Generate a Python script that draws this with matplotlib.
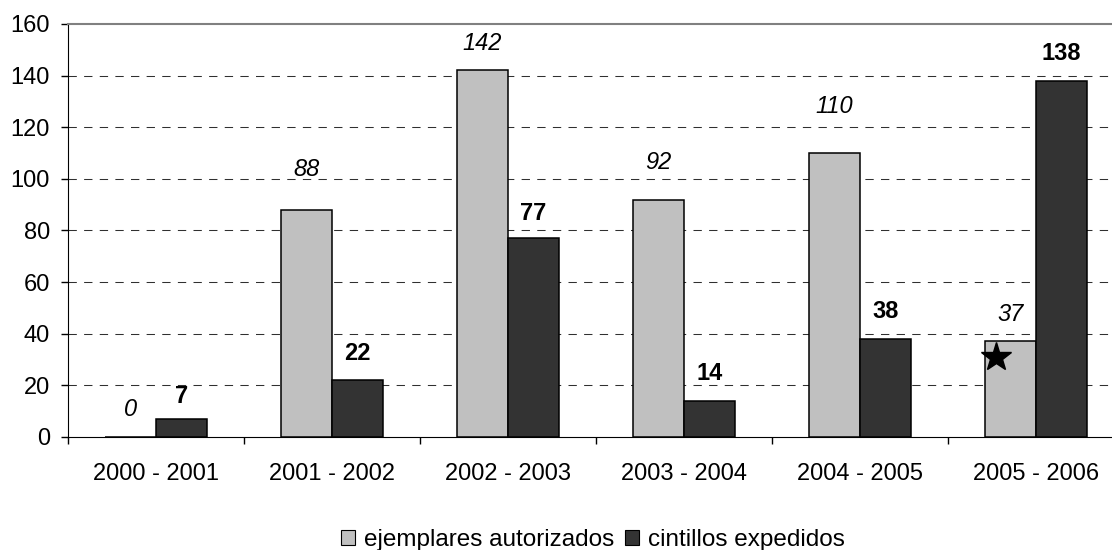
import matplotlib
matplotlib.use("Agg")
import matplotlib.pyplot as plt
import matplotlib.patches as mpatches
import numpy as np

plt.rcParams["font.family"] = ["Liberation Sans", "DejaVu Sans"]

periods    = ["2000 - 2001", "2001 - 2002", "2002 - 2003",
              "2003 - 2004", "2004 - 2005", "2005 - 2006"]
ejemplares = [0, 88, 142, 92, 110, 37]
cintillos  = [7, 22, 77, 14, 38, 138]

# extra lift (data units) for some value labels above the default offset
lift_ejemplares = [0, 5, 0, 4, 7.5, 0]
lift_cintillos  = [-2, 0, -1, 0, 0, 0]

GRAY = "#c0c0c0"
DARK = "#333333"
FS = 17

fig = plt.figure(figsize=(11.12, 5.5), dpi=100, facecolor="white")
# plot area runs a little past the right edge of the canvas
ax = fig.add_axes([0.0612, 0.2055, 0.9496, 0.7509])

x = np.arange(len(periods)) + 0.5
w = 0.29
ax.bar(x - w / 2, ejemplares, w, color=GRAY, edgecolor="black", linewidth=1.1, zorder=3)
ax.bar(x + w / 2, cintillos, w, color=DARK, edgecolor="black", linewidth=1.1, zorder=3)

base = 10.5
for xi, v, lf in zip(x - w / 2, ejemplares, lift_ejemplares):
    ax.text(xi, v + base + lf, f"{v}", ha="center", va="center",
            fontsize=FS, style="italic", color="black", zorder=4)
for xi, v, lf in zip(x + w / 2, cintillos, lift_cintillos):
    ax.text(xi, v + base + lf, f"{v}", ha="center", va="center",
            fontsize=FS, fontweight="bold", color="black", zorder=4)

# star on the last light bar
ax.plot(x[-1] - w / 2 - 0.085, ejemplares[-1] - 6, marker="*", markersize=22,
        color="black", zorder=5, linestyle="none")

ax.set_xlim(0, len(periods))
ax.set_ylim(0, 160)
ax.set_yticks(range(0, 161, 20))
ax.tick_params(axis="y", labelsize=FS, length=5, width=1, pad=8, direction="out")
ax.set_xticks(np.arange(len(periods) + 1))
ax.set_xticklabels([])
ax.set_xticks(x, minor=True)
ax.set_xticklabels(periods, minor=True)
ax.tick_params(axis="x", which="major", length=5, width=1, direction="out")
ax.tick_params(axis="x", which="minor", length=0, labelsize=FS, pad=19)

for yv in range(20, 160, 20):
    ax.axhline(yv, color="#303030", linewidth=0.75, linestyle=(0, (8, 7)), zorder=1)

ax.spines["right"].set_visible(False)
ax.spines["top"].set_color("#808080")
ax.spines["top"].set_linewidth(1.5)
ax.spines["left"].set_color("black")
ax.spines["bottom"].set_color("black")

handles = [mpatches.Patch(facecolor=GRAY, edgecolor="black", linewidth=0.8,
                          label="ejemplares autorizados"),
           mpatches.Patch(facecolor=DARK, edgecolor="black", linewidth=0.8,
                          label="cintillos expedidos")]
fig.legend(handles=handles, loc="center", bbox_to_anchor=(0.533, 0.018), ncol=2,
           frameon=False, fontsize=17.5, handlelength=0.6, handleheight=0.6,
           handletextpad=0.35, columnspacing=0.45)

fig.savefig("out.png", dpi=100, facecolor="white")
